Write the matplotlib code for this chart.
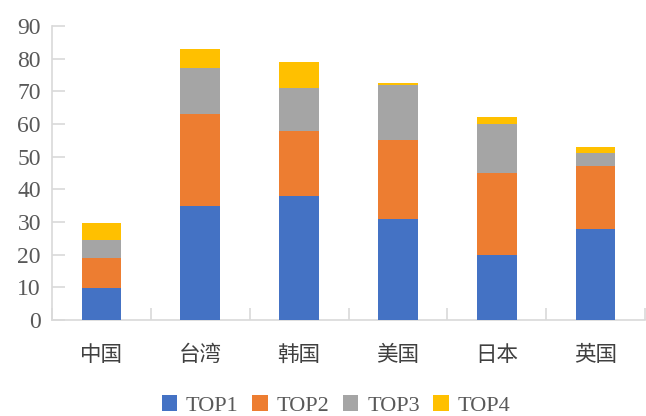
import matplotlib
matplotlib.use("Agg")
import matplotlib.pyplot as plt
import numpy as np

categories = ["中国", "台湾", "韩国", "美国", "日本", "英国"]
top1 = [9.7, 35, 38, 31, 20, 28]
top2 = [9.4, 28, 20, 24, 25, 19]
top3 = [5.4, 14, 13, 17, 15, 4]
top4 = [5.3, 6, 8, 0.4, 2, 2]
series_names = ["TOP1", "TOP2", "TOP3", "TOP4"]
colors = ["#4472C4", "#ED7D31", "#A5A5A5", "#FFC000"]
y_ticks = [0, 10, 20, 30, 40, 50, 60, 70, 80, 90]

fig = plt.figure(figsize=(6.46, 4.16), dpi=100)
ax = fig.add_axes([0.0805, 0.2308, 0.918, 0.7067])

x = np.arange(len(categories))
bottom = np.zeros(len(categories))
handles = []
for vals, name, c in zip([top1, top2, top3, top4], series_names, colors):
    h = ax.bar(x, vals, width=0.4, bottom=bottom, color=c, label=name, zorder=3)
    handles.append(h)
    bottom += np.array(vals)

ax.set_xlim(-0.5, len(categories) - 0.5)
ax.set_ylim(0, 90)
ax.set_yticks(y_ticks)
ax.set_yticklabels([str(t) for t in y_ticks], fontfamily="Liberation Serif",
                   fontsize=17, color="#595959")

axis_color = "#D9D9D9"
for side in ["top", "right"]:
    ax.spines[side].set_visible(False)
ax.spines["left"].set_color(axis_color)
ax.spines["bottom"].set_color(axis_color)
ax.spines["left"].set_linewidth(1.2)
ax.spines["bottom"].set_linewidth(1.2)

ax.tick_params(axis="y", direction="in", length=9, color=axis_color, width=1.2, pad=8)
# category separators on the x axis
ax.set_xticks(np.arange(len(categories) + 1) - 0.5)
ax.set_xticklabels([])
ax.set_xticks(x, minor=True)
ax.set_xticklabels(categories, minor=True, fontfamily="Noto Sans CJK SC",
                   fontsize=15.5, color="#404040", fontweight="light")
ax.tick_params(axis="x", which="major", direction="in", length=9, color=axis_color, width=1.2)
ax.tick_params(axis="x", which="minor", length=0, pad=17)

leg = fig.legend(handles=handles, labels=series_names, loc="center",
                 bbox_to_anchor=(0.52, 0.025), ncol=4, frameon=False,
                 prop={"family": "Liberation Serif", "size": 16},
                 handlelength=0.7, handleheight=0.7, handletextpad=0.4,
                 columnspacing=0.6)
for t in leg.get_texts():
    t.set_color("#595959")

fig.savefig("out.png", dpi=100)
